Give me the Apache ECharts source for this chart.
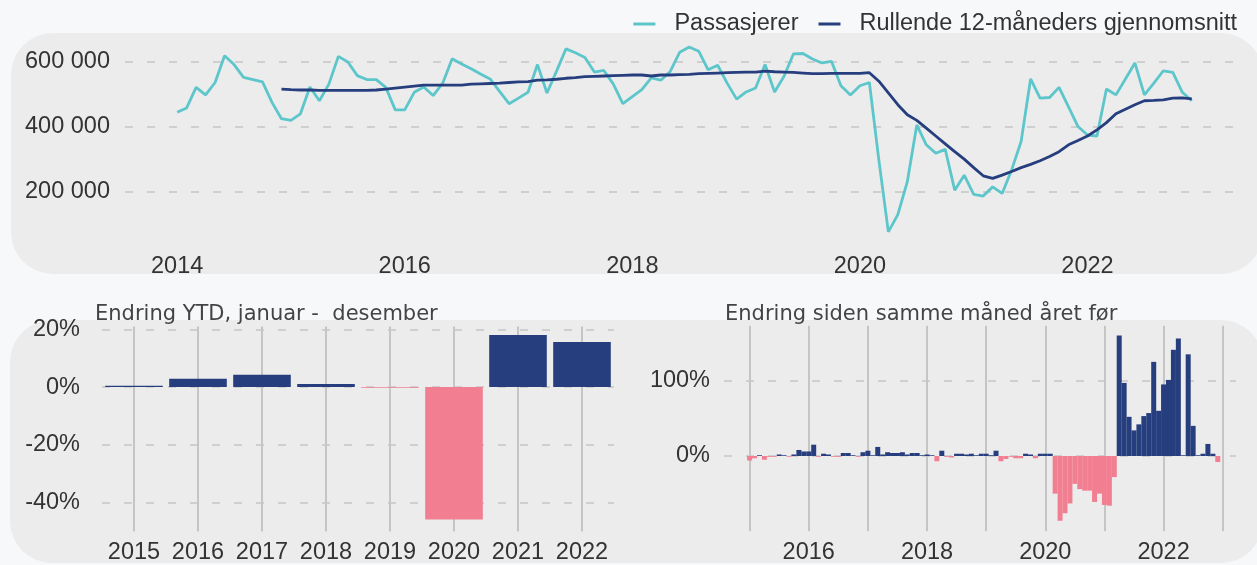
<!DOCTYPE html>
<html>
<head>
<meta charset="utf-8">
<script src="https://cdn.jsdelivr.net/npm/echarts@6/dist/echarts.min.js"></script>
<style>
  html, body { margin: 0; padding: 0; background: #f7f8fa; overflow: hidden; }
  .panel { position: absolute; background: #ececec; border-radius: 42px; }
  #top-panel { left: 11px; top: 33px; width: 1252px; height: 241px; }
  #bottom-panel { left: 10px; top: 320px; width: 1253px; height: 243px; }
  #chart { position: absolute; left: 0; top: 0; width: 1257px; height: 565px; }
</style>
</head>
<body>
<div class="panel" id="top-panel"></div>
<div class="panel" id="bottom-panel"></div>
<div id="chart"></div>
<script>
// Månedlige passasjerer, januar 2014 - desember 2022 (tusen)
const startYear = 2014
const passengers = [
  444, 457, 520, 497, 535, 617, 590, 551, 544, 537, 474, 424,
  419, 439, 521, 479, 530, 615, 598, 556, 544, 544, 520, 451,
  451, 505, 521, 495, 533, 608, 592, 577, 561, 546, 508, 470,
  487, 505, 590, 503, 569, 638, 626, 612, 567, 572, 530, 470,
  492, 513, 549, 542, 569, 628, 644, 631, 574, 588, 533, 484,
  506, 518, 590, 506, 554, 623, 624, 607, 595, 600, 525, 497,
  525, 535, 297, 77, 130, 231, 405, 344, 318, 330, 205, 251,
  192, 187, 215, 195, 267, 354, 546, 487, 489, 520, 460, 400,
  374, 371, 515, 497, 546, 595, 497, 533, 571, 566, 505, 479
]
// Rullende 12-måneders gjennomsnitt (tusen), starter desember 2014
const rolling = [
  null, null, null, null, null, null, null, null, null, null, null, 515,
  513, 512, 512, 511, 511, 511, 511, 511, 511, 512, 515, 518,
  521, 524, 527, 527, 527, 527, 527, 530, 531, 532, 533, 535,
  537, 538, 542, 543, 545, 548, 550, 553, 554, 555, 556, 557,
  558, 558, 555, 558, 558, 559, 560, 562, 563, 564, 565, 566,
  567, 567, 570, 568, 567, 566, 564, 562, 562, 563, 563, 563,
  563, 565, 539, 503, 467, 436, 419, 395, 371, 347, 323, 300,
  274, 249, 241, 251, 262, 274, 284, 295, 308, 323, 344, 357,
  371, 390, 412, 439, 453, 467, 479, 480, 482, 487, 488, 485
]
const topTickMonths = [0, 24, 48, 72, 96]

// Endring YTD, januar - desember (%)
const ytdYears = ['2015', '2016', '2017', '2018', '2019', '2020', '2021', '2022']
const ytdChange = [0.5, 2.9, 4.3, 1.1, -0.2, -45.8, 18.0, 15.6]

// Endring siden samme måned året før (%), januar 2015 - desember 2022
const yoyStartYear = 2015
const yoyChange = [
  -6, -3, 1, -5, -1, -1, 2, 1, -1, 2, 8, 6,
  6, 15, -1, 3, 2, -1, -1, 4, 4, 1, -1, 5,
  7, 1, 12, 2, 5, 4, 4, 5, 2, 4, 4, 1,
  2, 1, -7, 7, -1, -2, 3, 3, 2, 3, 1, 3,
  3, 1, 7, -7, -4, -1, -3, -3, 3, 2, -3, 3,
  3, 3, -50, -86, -76, -63, -37, -44, -46, -46, -61, -50,
  -65, -66, -28, 160, 97, 52, 34, 42, 53, 57, 125, 60,
  95, 101, 141, 156, 1, 135, 40, 1, 3, 16, 3, -8
]
const yoyGridMonths = [0, 12, 24, 36, 48, 60, 72, 84, 96]
const yoyLabelMonths = [12, 36, 60, 84]

const teal = '#5cc6cb'
const navy = '#263e7e'
const pink = '#f27e91'
const dash = '#cfcfcf'
const vline = '#c5c5c5'
const none = 'rgba(0,0,0,0)'
const font = 'Liberation Sans'
const labelSize = 23.5
const subtitleStyle = { fontFamily: 'DejaVu Sans', fontSize: 21, fontWeight: 'normal', color: '#444' }

const chart = echarts.init(document.getElementById('chart'))

function spaced(v) {
  return String(v).replace(/\B(?=(\d{3})+(?!\d))/g, ' ')
}

const option = {
  animation: false,
  textStyle: { fontFamily: font },
  title: [
    { text: 'Endring YTD, januar -  desember', left: 95, top: 304, padding: 0, textStyle: subtitleStyle },
    { text: 'Endring siden samme måned året før', left: 725, top: 304, padding: 0, textStyle: subtitleStyle }
  ],
  legend: {
    right: 15,
    top: 7,
    icon: 'rect',
    itemWidth: 22,
    itemHeight: 3,
    itemGap: 20,
    textStyle: { fontSize: labelSize, color: '#333', padding: [0, 0, 0, 14] },
    data: ['Passasjerer', 'Rullende 12-måneders gjennomsnitt']
  },
  grid: [
    { left: 125, width: 1118, top: 45, height: 212 },
    { left: 102, width: 512, top: 326.4, height: 205.2 },
    { left: 724, width: 512, top: 325.7, height: 205.6 }
  ],
  xAxis: [
    {
      gridIndex: 0,
      type: 'value',
      min: -5.5,
      max: 112.4,
      axisLine: { show: false },
      axisTick: { show: false, customValues: topTickMonths },
      splitLine: { show: false },
      axisLabel: {
        customValues: topTickMonths,
        fontSize: labelSize,
        color: '#333',
        margin: -2,
        formatter: (v) => String(startYear + v / 12)
      }
    },
    {
      gridIndex: 1,
      type: 'category',
      data: ytdYears,
      axisLine: { show: false },
      axisTick: { show: false },
      splitLine: { show: true, alignWithLabel: true, lineStyle: { color: vline, width: 2 } },
      axisLabel: { interval: 0, fontSize: labelSize, color: '#333', margin: 9 }
    },
    {
      gridIndex: 2,
      type: 'value',
      min: -5.2,
      max: 98.7,
      axisLine: { show: false },
      axisTick: { show: false, customValues: yoyGridMonths },
      splitLine: { show: true, lineStyle: { color: vline, width: 2 } },
      axisLabel: {
        customValues: yoyLabelMonths,
        fontSize: labelSize,
        color: '#333',
        margin: 9,
        formatter: (v) => String(yoyStartYear + v / 12)
      }
    }
  ],
  yAxis: [
    {
      gridIndex: 0,
      type: 'value',
      min: 0,
      max: 650000,
      interval: 200000,
      axisLine: { show: false },
      axisTick: { show: false },
      splitLine: { lineStyle: { color: [none, dash, dash, dash, none], width: 2, type: [8, 14] } },
      axisLabel: {
        fontSize: labelSize,
        color: '#333',
        margin: 15,
        formatter: (v) => (v > 0 && v % 200000 === 0 ? spaced(v) : '')
      }
    },
    {
      gridIndex: 1,
      type: 'value',
      min: -50,
      max: 21,
      interval: 10,
      axisLine: { show: false },
      axisTick: { show: false },
      splitLine: {
        lineStyle: { color: [none, dash, none, dash, none, dash, none, dash, none], width: 2, type: [8, 14] }
      },
      axisLabel: {
        fontSize: labelSize,
        color: '#333',
        margin: 22,
        formatter: (v) => (v % 20 === 0 && v >= -40 && v <= 20 ? v + '%' : '')
      }
    },
    {
      gridIndex: 2,
      type: 'value',
      min: -100,
      max: 173,
      interval: 100,
      axisLine: { show: false },
      axisTick: { show: false },
      splitLine: { lineStyle: { color: [none, dash, dash, none], width: 2, type: [8, 14] } },
      axisLabel: {
        fontSize: labelSize,
        color: '#333',
        margin: 14,
        formatter: (v) => (v === 0 || v === 100 ? v + '%' : '')
      }
    }
  ],
  series: [
    {
      name: 'Passasjerer',
      type: 'line',
      xAxisIndex: 0,
      yAxisIndex: 0,
      showSymbol: false,
      color: teal,
      lineStyle: { width: 2.8, color: teal },
      data: passengers.map((v, i) => [i, v * 1000])
    },
    {
      name: 'Rullende 12-måneders gjennomsnitt',
      type: 'line',
      xAxisIndex: 0,
      yAxisIndex: 0,
      showSymbol: false,
      color: navy,
      lineStyle: { width: 2.8, color: navy },
      data: rolling.map((v, i) => [i, v === null ? null : v * 1000])
    },
    {
      type: 'bar',
      xAxisIndex: 1,
      yAxisIndex: 1,
      barWidth: '90%',
      itemStyle: { color: (p) => (p.value >= 0 ? navy : pink) },
      data: ytdChange
    },
    {
      type: 'bar',
      xAxisIndex: 2,
      yAxisIndex: 2,
      barWidth: 5,
      itemStyle: { color: (p) => (p.value[1] >= 0 ? navy : pink) },
      data: yoyChange.map((v, i) => [i, v])
    }
  ]
}

chart.setOption(option)
</script>
</body>
</html>
